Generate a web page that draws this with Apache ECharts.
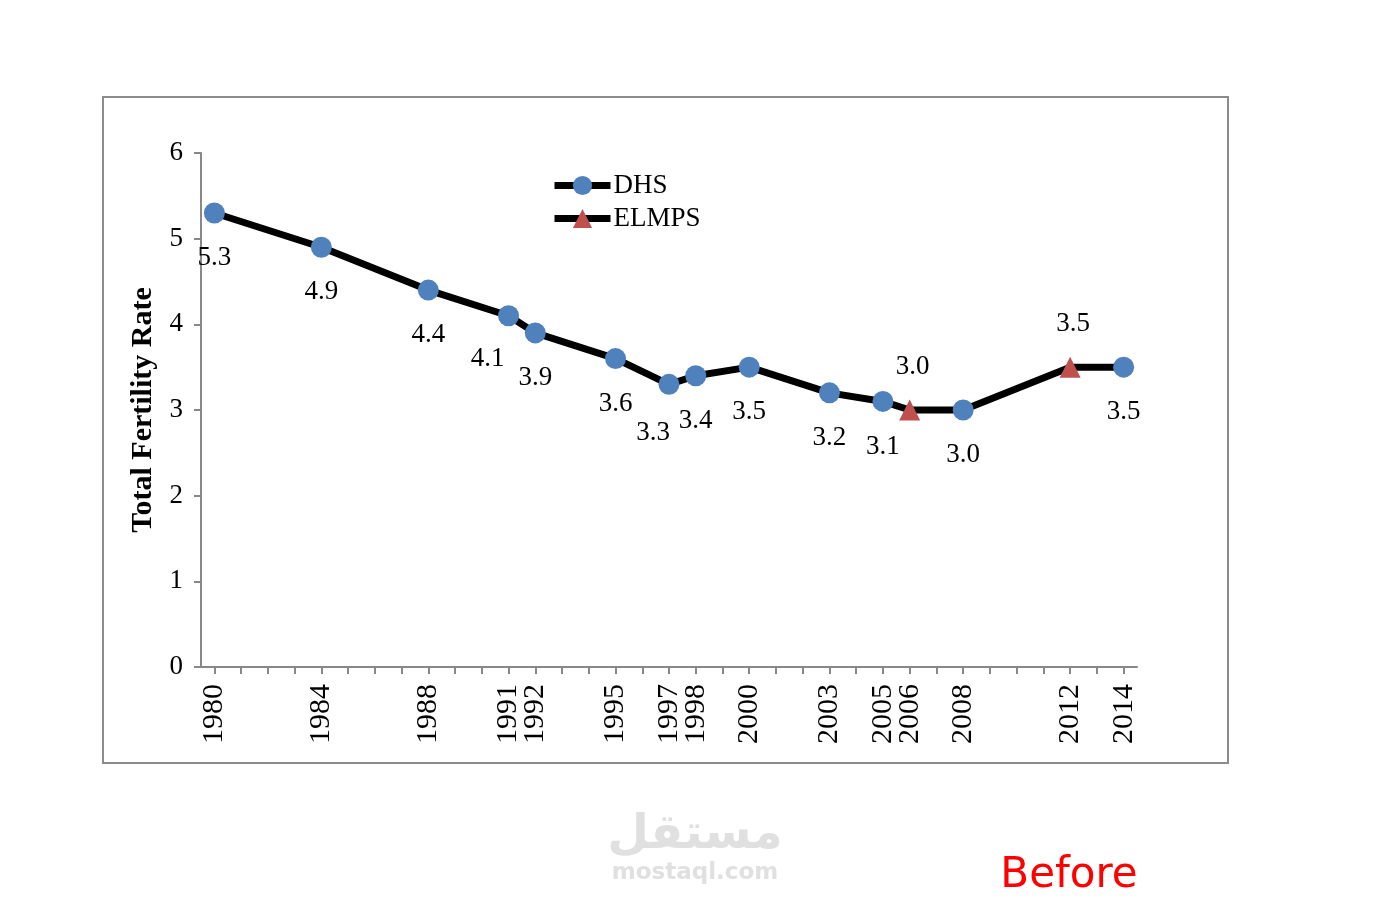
<!DOCTYPE html>
<html>
<head>
<meta charset="utf-8">
<script src="https://cdn.jsdelivr.net/npm/echarts@6/dist/echarts.min.js"></script>
<style>
  html, body { margin: 0; padding: 0; background: #fff; }
  #main { width: 1391px; height: 905px; }
</style>
</head>
<body>
<div id="main"></div>
<script>
// DHS survey years and total fertility rate
var dhsYears = [1980, 1984, 1988, 1991, 1992, 1995, 1997, 1998, 2000, 2003, 2005, 2008, 2014];
var dhsTfr = [5.3, 4.9, 4.4, 4.1, 3.9, 3.6, 3.3, 3.4, 3.5, 3.2, 3.1, 3.0, 3.5];
// ELMPS
var elmpsYears = [2006, 2012];
var elmpsTfr = [3.0, 3.5];
var yTicks = [0, 1, 2, 3, 4, 5, 6];

var serif = '"Liberation Serif", "Times New Roman", serif';

// every year gets a tick, only survey years get a label
var tickYears = [];
for (var y = 1980; y <= 2014; y++) tickYears.push(y);
var labelYears = dhsYears.concat(elmpsYears).sort(function (a, b) { return a - b; });

// one black line through all the points in time order
var trend = [];
dhsYears.forEach(function (yr, i) { trend.push([yr, dhsTfr[i]]); });
elmpsYears.forEach(function (yr, i) { trend.push([yr, elmpsTfr[i]]); });
trend.sort(function (a, b) { return a[0] - b[0]; });

// small nudges for crowded labels
var dhsLabelNudge = { 1991: [-21, -2], 1997: [-16, 4] };

var dhsData = dhsYears.map(function (yr, i) {
    var item = { value: [yr, dhsTfr[i]] };
    if (dhsLabelNudge[yr]) item.label = { offset: dhsLabelNudge[yr] };
    return item;
});
var elmpsData = elmpsYears.map(function (yr, i) { return [yr, elmpsTfr[i]]; });

var myChart = echarts.init(document.getElementById('main'));

var option = {
    backgroundColor: '#fff',
    animation: false,
    grid: {
        left: 201,
        right: 254,
        top: 153,
        bottom: 238
    },
    legend: {
        orient: 'vertical',
        left: 551,
        top: 172,
        padding: 0,
        itemWidth: 56,
        itemHeight: 24,
        itemGap: 6,
        textStyle: { fontFamily: serif, fontSize: 27, color: '#000', padding: [0, 0, 0, -2] },
        data: [
            { name: 'DHS', lineStyle: { color: '#000', width: 7, opacity: 1 } },
            { name: 'ELMPS', lineStyle: { color: '#000', width: 7, opacity: 1 } }
        ]
    },
    xAxis: {
        type: 'value',
        min: 1979.5,
        max: 2014.5,
        splitLine: { show: false },
        axisLine: { lineStyle: { color: '#888', width: 2 } },
        axisTick: {
            show: true,
            length: 7,
            customValues: tickYears,
            lineStyle: { color: '#888', width: 2 }
        },
        axisLabel: {
            customValues: labelYears,
            rotate: 90,
            margin: 17,
            color: '#000',
            fontFamily: serif,
            fontSize: 30,
            formatter: function (v) { return String(v); }
        }
    },
    yAxis: {
        type: 'value',
        min: 0,
        max: 6,
        interval: 1,
        name: 'Total Fertility Rate',
        nameLocation: 'middle',
        nameGap: 42,
        nameTextStyle: { fontFamily: serif, fontSize: 30, fontWeight: 'bold', color: '#000' },
        splitLine: { show: false },
        axisLine: { show: true, lineStyle: { color: '#888', width: 2 } },
        axisTick: { show: true, length: 7, lineStyle: { color: '#888', width: 2 } },
        axisLabel: {
            margin: 18,
            color: '#000',
            fontFamily: serif,
            fontSize: 27,
            formatter: function (v) { return yTicks.indexOf(v) >= 0 ? String(v) : ''; }
        }
    },
    series: [
        {
            name: 'trend',
            type: 'line',
            data: trend,
            symbol: 'none',
            z: 1,
            lineStyle: { color: '#000', width: 7 }
        },
        {
            name: 'DHS',
            type: 'line',
            data: dhsData,
            symbol: 'circle',
            symbolSize: 21,
            z: 3,
            itemStyle: { color: '#4f81bd' },
            lineStyle: { width: 0, opacity: 0 },
            label: {
                show: true,
                position: 'bottom',
                distance: 21,
                color: '#000',
                fontFamily: serif,
                fontSize: 27,
                formatter: function (p) { return p.value[1].toFixed(1); }
            }
        },
        {
            name: 'ELMPS',
            type: 'line',
            data: elmpsData,
            symbol: 'triangle',
            symbolSize: 21,
            z: 3,
            itemStyle: { color: '#c0504d' },
            lineStyle: { width: 0, opacity: 0 },
            label: {
                show: true,
                position: 'top',
                distance: 18,
                offset: [3, -1],
                color: '#000',
                fontFamily: serif,
                fontSize: 27,
                formatter: function (p) { return p.value[1].toFixed(1); }
            }
        }
    ],
    graphic: [
        {
            type: 'rect',
            shape: { x: 103, y: 97, width: 1125, height: 666 },
            style: { fill: 'none', stroke: '#8c8c8c', lineWidth: 2 },
            silent: true
        },
        {
            type: 'text',
            x: 695, y: 836,
            style: {
                text: 'مستقل',
                font: 'bold 48px "DejaVu Sans", sans-serif',
                fill: '#e0e0e0',
                align: 'center',
                verticalAlign: 'middle'
            }
        },
        {
            type: 'text',
            x: 695, y: 873,
            style: {
                text: 'mostaql.com',
                font: 'bold 23px "DejaVu Sans", sans-serif',
                fill: '#e0e0e0',
                align: 'center',
                verticalAlign: 'middle'
            }
        },
        {
            type: 'text',
            x: 1069, y: 876,
            style: {
                text: 'Before',
                font: '42px "DejaVu Sans", sans-serif',
                fill: '#ff0000',
                align: 'center',
                verticalAlign: 'middle'
            }
        }
    ]
};

myChart.setOption(option);
</script>
</body>
</html>
